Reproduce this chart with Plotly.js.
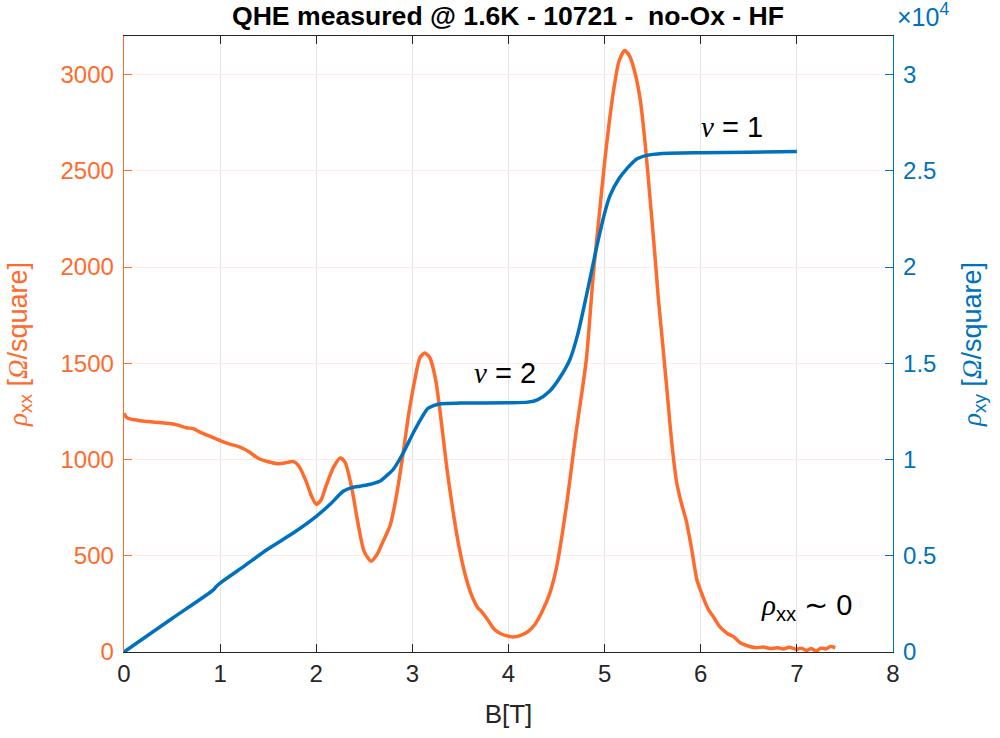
<!DOCTYPE html>
<html>
<head>
<meta charset="utf-8">
<script src="https://cdn.plot.ly/plotly-3.0.1.min.js"></script>
<style>html,body{margin:0;padding:0;background:#fff;}#chart{width:1000px;height:738px;}</style>
</head>
<body>
<div id="chart"></div>
<script>
// Magnetic field B [T] and longitudinal resistivity rho_xx [Ohm/square]
const B_xx = [0.00,0.02,0.05,0.15,0.30,0.45,0.55,0.65,0.72,0.80,0.90,1.00,1.10,1.20,1.30,1.40,1.50,1.60,1.70,1.76,1.82,1.90,1.95,2.00,2.05,2.10,2.18,2.25,2.30,2.37,2.43,2.50,2.57,2.63,2.70,2.77,2.83,2.90,2.96,3.02,3.08,3.13,3.18,3.24,3.30,3.36,3.42,3.48,3.55,3.62,3.68,3.72,3.78,3.85,3.92,4.00,4.05,4.12,4.20,4.27,4.35,4.43,4.50,4.60,4.70,4.81,4.88,4.95,5.00,5.05,5.10,5.15,5.21,5.26,5.32,5.37,5.42,5.47,5.52,5.56,5.60,5.645,5.70,5.75,5.80,5.85,5.90,5.96,6.02,6.08,6.13,6.20,6.28,6.34,6.42,6.50,6.58,6.65,6.72,6.80,6.86,6.92,7.00,7.05,7.10,7.15,7.20,7.25,7.30,7.35,7.40];
const rho_xx = [1240,1222,1212,1203,1195,1188,1180,1165,1160,1140,1120,1098,1080,1065,1040,1005,988,978,985,990,965,880,810,768,790,860,960,1008,985,850,680,520,472,505,580,660,800,1020,1230,1400,1530,1553,1530,1420,1200,950,740,560,400,290,230,210,170,120,95,82,78,85,105,140,210,306,440,750,1130,1521,1950,2300,2545,2760,2940,3070,3125,3095,3000,2870,2650,2371,2080,1830,1620,1380,1080,879,770,680,550,375,290,220,184,130,95,80,45,30,22,26,18,22,15,25,14,20,8,18,5,20,16,28,22];

// Magnetic field B [T] and Hall resistivity rho_xy [Ohm/square]
const B_xy = [0.00,0.50,0.93,0.96,1.00,1.25,1.485,1.76,2.00,2.15,2.28,2.38,2.455,2.55,2.66,2.73,2.80,2.90,3.01,3.10,3.16,3.22,3.30,3.50,4.00,4.20,4.30,4.43,4.54,4.64,4.72,4.81,4.92,5.00,5.056,5.15,5.23,5.33,5.44,5.60,6.00,6.50,7.00];
const rho_xy = [0,1740,3230,3400,3580,4460,5310,6180,7050,7700,8350,8550,8610,8700,8870,9150,9480,10300,11390,12200,12650,12800,12900,12930,12950,12980,13100,13560,14300,15210,16500,18500,21100,22800,23710,24600,25100,25600,25800,25900,25940,25960,26000];

// Tick labels
const xTicks = [0,1,2,3,4,5,6,7,8];
const leftTicks = [0,500,1000,1500,2000,2500,3000];
const rightTickVals = [0,5000,10000,15000,20000,25000,30000];
const rightTickText = ['0','0.5','1','1.5','2','2.5','3'];

const ORANGE = '#FF6B2C';
const BLUE = '#0072BD';
const DARK = '#262626';
const FONT = 'Liberation Sans, Arial, sans-serif';
const SERIF = "Liberation Serif";
const rho = '<span style="font-family:' + SERIF + '"><i>ρ</i></span>';
const omega = '<span style="font-family:' + SERIF + '"><i>Ω</i></span>';
const nu = '<span style="font-family:' + SERIF + '"><i>ν</i></span>';

const traces = [
  {x: B_xx, y: rho_xx, type: 'scatter', mode: 'lines', line: {color: ORANGE, width: 3.5, shape: 'spline', smoothing: 0.7}, yaxis: 'y', hoverinfo: 'skip'},
  {x: B_xy, y: rho_xy, type: 'scatter', mode: 'lines', line: {color: BLUE, width: 3.5, shape: 'spline', smoothing: 0.7}, yaxis: 'y2', hoverinfo: 'skip'}
];

const layout = {
  width: 1000, height: 738,
  margin: {l: 124, r: 107, t: 36, b: 86},
  paper_bgcolor: '#fff', plot_bgcolor: '#fff',
  showlegend: false,
  font: {family: FONT, size: 24, color: DARK},
  title: {text: '<b>QHE measured @ 1.6K - 10721 -  no-Ox - HF</b>', font: {family: FONT, size: 26.6, color: '#000'}, x: 0.508, xanchor: 'center', y: 1 - 16/738, yanchor: 'middle', yref: 'container'},
  xaxis: {
    range: [0, 8], tickvals: xTicks, ticks: 'inside', ticklen: 8, tickwidth: 1, tickcolor: DARK,
    showline: true, linecolor: DARK, linewidth: 1.3, mirror: 'ticks',
    showgrid: true, gridcolor: '#e3e3e3', gridwidth: 1, zeroline: false,
    tickfont: {family: FONT, size: 24, color: DARK},
    title: {text: 'B[T]', font: {family: FONT, size: 26, color: DARK}, standoff: 18}
  },
  yaxis: {
    range: [0, 3200], tickvals: leftTicks, ticks: 'inside', ticklen: 8, tickwidth: 1, tickcolor: ORANGE,
    showline: true, linecolor: ORANGE, linewidth: 1.3,
    showgrid: true, gridcolor: '#ffebe2', gridwidth: 1, zeroline: false,
    tickfont: {family: FONT, size: 24, color: ORANGE},
    ticklabelstandoff: 4,
    title: {text: rho + '<sub>xx</sub> [' + omega + '/square]', font: {family: FONT, size: 27, color: ORANGE}, standoff: 25}
  },
  yaxis2: {
    range: [0, 32000], overlaying: 'y', side: 'right', tickvals: rightTickVals, ticktext: rightTickText,
    ticks: 'inside', ticklen: 8, tickwidth: 1, tickcolor: BLUE,
    showline: true, linecolor: BLUE, linewidth: 1.3, showgrid: false, zeroline: false,
    tickfont: {family: FONT, size: 24, color: BLUE},
    ticklabelstandoff: 4,
    title: {text: rho + '<sub>xy</sub> [' + omega + '/square]', font: {family: FONT, size: 27, color: BLUE}, standoff: 26}
  },
  annotations: [
    {xref: 'paper', yref: 'paper', x: 1.003, y: 1.034, xanchor: 'left', yanchor: 'middle', showarrow: false,
     text: '×10<sup>4</sup>', font: {family: FONT, size: 25, color: BLUE}},
    {xref: 'x', yref: 'y', x: 3.96, y: 1448, showarrow: false, xanchor: 'center', yanchor: 'middle',
     text: nu + ' = 2', font: {family: FONT, size: 29, color: '#000'}},
    {xref: 'x', yref: 'y', x: 6.33, y: 2729, showarrow: false, xanchor: 'center', yanchor: 'middle',
     text: nu + ' = 1', font: {family: FONT, size: 29, color: '#000'}},
    {xref: 'x', yref: 'y', x: 7.1, y: 234, showarrow: false, xanchor: 'center', yanchor: 'middle',
     text: rho + '<sub>xx</sub> ∼ 0', font: {family: FONT, size: 29, color: '#000'}}
  ]
};

Plotly.newPlot('chart', traces, layout, {staticPlot: true, displayModeBar: false});
</script>
</body>
</html>
